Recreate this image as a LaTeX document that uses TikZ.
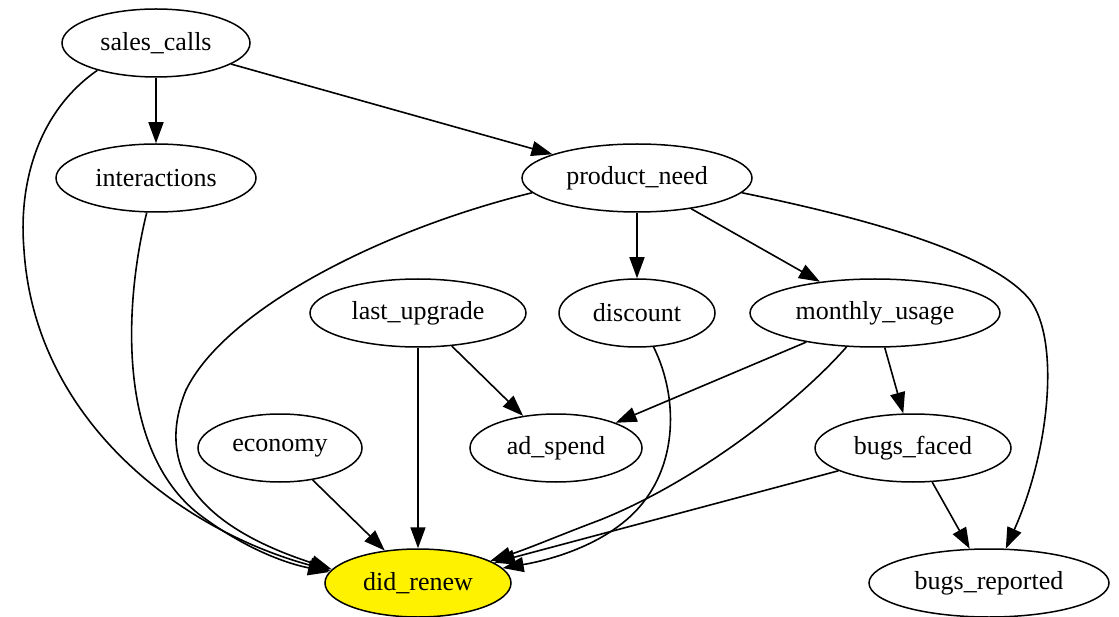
\documentclass[tikz,border=0pt]{standalone}
\usepackage{fontspec}
\setmainfont{Liberation Serif}
\usetikzlibrary{shapes.geometric,arrows.meta}
\begin{document}
\begin{tikzpicture}[x=1pt,y=-1pt,
  nd/.style={ellipse,draw,line width=1.5pt,inner sep=0pt,minimum height=68pt,
    font=\fontsize{26}{30}\selectfont},
  ed/.style={line width=1.6pt,-{Triangle[length=21pt,width=15pt]}}]
\useasboundingbox (0,0) rectangle (1119,617);
\node[nd,minimum width=188pt] (sc) at (156,43) {sales\_calls};
\node[nd,minimum width=200pt] (in) at (156,178) {interactions};
\node[nd,minimum width=230pt] (pn) at (637,178) {product\_need};
\node[nd,minimum width=216pt] (lu) at (418,313) {last\_upgrade};
\node[nd,minimum width=156pt] (di) at (637,313) {discount};
\node[nd,minimum width=250pt] (mu) at (875,313) {monthly\_usage};
\node[nd,minimum width=164pt] (ec) at (280,448) {economy};
\node[nd,minimum width=172pt] (ad) at (556,448) {ad\_spend};
\node[nd,minimum width=196pt] (bf) at (913,448) {bugs\_faced};
\node[nd,minimum width=186pt,fill=yellow] (dr) at (418,583) {did\_renew};
\node[nd,minimum width=240pt] (br) at (989,583) {bugs\_reported};
% straight edges
\draw[ed] (sc) -- (in);
\draw[ed] (sc) -- (pn);
\draw[ed] (pn) -- (di);
\draw[ed] (pn) -- (mu);
\draw[ed] (lu) -- (dr);
\draw[ed] (lu) -- (ad);
\draw[ed] (mu) -- (ad);
\draw[ed] (mu) -- (bf);
\draw[ed] (ec) -- (dr);
\draw[ed] (bf) -- (br);
\draw[ed] (bf.197) -- (dr.15);
% curved edges
\draw[ed] (sc.205) .. controls (40,110) and (18,180) .. (24,250)
  .. controls (35,420) and (180,530) .. (dr.172);
\draw[ed] (in.255) .. controls (125,300) and (115,450) .. (200,515)
  .. controls (240,545) and (280,562) .. (dr.173);
\draw[ed] (pn.188) .. controls (380,230) and (225,310) .. (186,390)
  .. controls (155,465) and (195,525) .. (dr.171);
\draw[ed] (pn.352) .. controls (850,215) and (990,250) .. (1030,300)
  .. controls (1060,340) and (1050,450) .. (br.64);
\draw[ed] (mu.230) .. controls (800,400) and (700,480) .. (600,520)
  .. controls (560,535) and (530,548) .. (dr.17);
\draw[ed] (di.296) .. controls (680,400) and (680,480) .. (620,525)
  .. controls (590,548) and (550,560) .. (dr.10);
\end{tikzpicture}
\end{document}
